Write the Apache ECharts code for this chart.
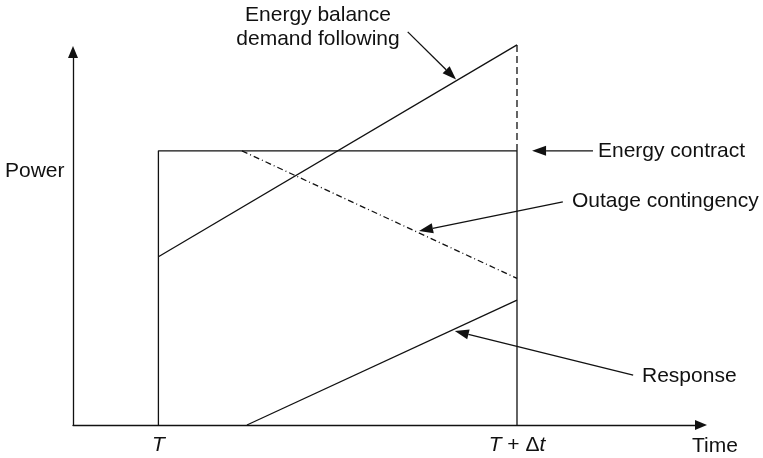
<!DOCTYPE html>
<html>
<head>
<meta charset="utf-8">
<script src="https://cdn.jsdelivr.net/npm/echarts@6/dist/echarts.min.js"></script>
<style>
  html, body { margin: 0; padding: 0; background: #fff; }
  #chart { width: 763px; height: 458px; }
</style>
</head>
<body>
<div id="chart"></div>
<script>
// schematic values, in axis units (x: 0-100 time, y: 0-100 power)
const tickValues = [13.6, 70.7]
const tickLabels = ['{i|T}', '{i|T} + Δ{i|t}']

const contractX = [13.6, 13.6, 70.7, 70.7]
const contractY = [0, 73.5, 73.5, 0]

const demandX = [13.6, 70.7]
const demandY = [45.1, 101.9]

const gapX = [70.7, 70.7]
const gapY = [101.9, 73.5]

const outageX = [26.9, 70.7]
const outageY = [73.5, 39.3]

const responseX = [27.7, 70.7]
const responseY = [0, 33.5]

// callout arrows: [fromX, fromY, tipX, tipY]
const calloutDemand = [53.3, 105.4, 61.0, 92.6]
const calloutContract = [82.8, 73.5, 73.1, 73.5]
const calloutOutage = [78.0, 59.8, 55.1, 52.0]
const calloutResponse = [89.2, 13.4, 60.8, 25.2]

const FONT = '"Liberation Sans", Arial, Helvetica, sans-serif'
const INK = '#111'

const pairs = (xs, ys) => xs.map((x, i) => [x, ys[i]])

const chart = echarts.init(document.getElementById('chart'), null, { renderer: 'canvas' })

const plainLine = (name, xs, ys, type) => ({
  name: name,
  type: 'line',
  data: pairs(xs, ys),
  symbol: 'none',
  clip: false,
  silent: true,
  lineStyle: { color: INK, width: 1.3, type: type || 'solid' }
})

const label = (text, x, y, align) => ({
  type: 'text',
  x: x,
  y: y,
  silent: true,
  style: {
    text: text,
    font: '21px ' + FONT,
    fill: INK,
    align: align || 'left',
    verticalAlign: 'middle'
  }
})

chart.setOption({
  animation: false,
  backgroundColor: '#fff',
  grid: { left: 73, right: 62, top: 52, bottom: 33 },
  xAxis: {
    type: 'value',
    min: 0,
    max: 100,
    splitLine: { show: false },
    axisTick: { show: false },
    axisLine: {
      show: true,
      symbol: ['none', 'triangle'],
      symbolSize: [10, 12],
      lineStyle: { color: INK, width: 1.3 }
    },
    axisLabel: {
      customValues: tickValues,
      formatter: (v) => tickLabels[tickValues.indexOf(v)] || '',
      margin: 10,
      fontSize: 21,
      fontFamily: FONT,
      color: INK,
      rich: {
        i: { fontStyle: 'italic', fontSize: 21, fontFamily: FONT, color: INK }
      }
    }
  },
  yAxis: {
    type: 'value',
    min: 0,
    max: 100,
    splitLine: { show: false },
    axisTick: { show: false },
    axisLabel: { show: false },
    axisLine: {
      show: true,
      symbol: ['none', 'triangle'],
      symbolSize: [10, 12],
      lineStyle: { color: INK, width: 1.3 }
    }
  },
  series: [
    plainLine('Energy contract', contractX, contractY),
    plainLine('Energy balance demand following', demandX, demandY),
    plainLine('Gap', gapX, gapY, [7, 4]),
    plainLine('Outage contingency', outageX, outageY, [6, 3, 1, 3]),
    plainLine('Response', responseX, responseY),
    {
      name: 'Callouts',
      type: 'custom',
      silent: true,
      clip: false,
      encode: { x: [0, 2], y: [1, 3] },
      data: [calloutDemand, calloutContract, calloutOutage, calloutResponse],
      renderItem: function (params, api) {
        const a = api.coord([api.value(0), api.value(1)])
        const b = api.coord([api.value(2), api.value(3)])
        const dx = b[0] - a[0]
        const dy = b[1] - a[1]
        const len = Math.sqrt(dx * dx + dy * dy)
        const ux = dx / len
        const uy = dy / len
        const L = 14
        const W = 5
        const bx = b[0] - ux * L
        const by = b[1] - uy * L
        return {
          type: 'group',
          children: [
            {
              type: 'line',
              shape: { x1: a[0], y1: a[1], x2: bx, y2: by },
              style: { stroke: INK, lineWidth: 1.3 }
            },
            {
              type: 'polygon',
              shape: { points: [b, [bx - uy * W, by + ux * W], [bx + uy * W, by - ux * W]] },
              style: { fill: INK }
            }
          ]
        }
      }
    }
  ],
  graphic: [
    label('Energy balance', 318, 15.5, 'center'),
    label('demand following', 318, 39.5, 'center'),
    label('Energy contract', 598, 151),
    label('Outage contingency', 572, 201),
    label('Response', 642, 376),
    label('Power', 5, 171),
    label('Time', 692, 446)
  ]
})
</script>
</body>
</html>
